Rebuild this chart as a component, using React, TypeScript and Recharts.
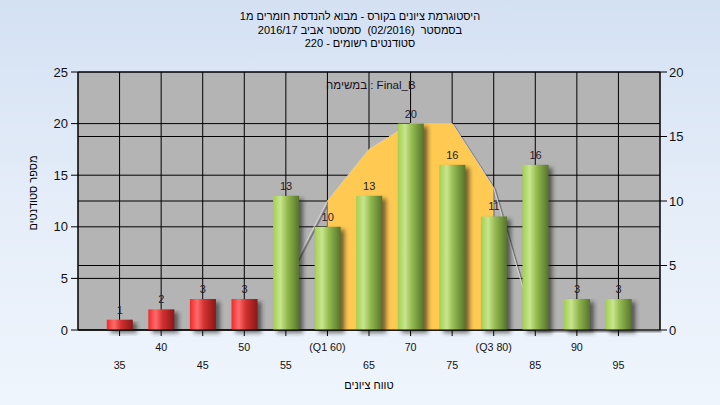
import { Area, Bar, CartesianGrid, ComposedChart, LabelList, XAxis, YAxis } from "recharts";

const grades = [35, 40, 45, 50, 55, 60, 65, 70, 75, 80, 85, 90, 95];
const studentCounts = [1, 2, 3, 3, 13, 10, 13, 20, 16, 11, 16, 3, 3];
const gradeTickLabels = ["35", "40", "45", "50", "55", "(Q1 60)", "65", "70", "75", "(Q3 80)", "85", "90", "95"];
const passGrade = 55;

// normal-ish curve on the right axis, and the band between Q1 and Q3
const curveGrades = [55, 60, 65, 70, 75, 80, 85, 90, 95, 100];
const curveLevels = [3.8, 10, 14, 16, 16, 11, 0, 0, 0, 0];
const quartileGrades = [60, 65, 70, 75, 80];
const quartileLevels = [10, 14, 16, 16, 11];

const leftTicks = [0, 5, 10, 15, 20, 25];
const rightTicks = [0, 5, 10, 15, 20];

const titleLines = [
  "היסטוגרמת ציונים בקורס - מבוא להנדסת חומרים מ1",
  "בסמסטר  (02/2016)  סמסטר אביב 2016/17",
  "סטודנטים רשומים - 220",
];
const assignmentLabel = "במשימה : Final_B";
const xTitle = "טווח ציונים";
const yTitle = "מספר סטודנטים";

const FONT = "'Liberation Sans', Arial, 'DejaVu Sans', sans-serif";

const barData = grades.map((grade, i) => ({ grade, count: studentCounts[i] }));
const curveData = curveGrades.map((grade, i) => ({ grade, level: curveLevels[i] }));
const bandData = quartileGrades.map((grade, i) => ({ grade, level: quartileLevels[i] }));

const CylinderBar = (props: any) => {
  const { x, y, width, height, payload } = props;
  if (!height || height <= 0) return null;
  const fill = payload.grade < passGrade ? "url(#barRed)" : "url(#barGreen)";
  return (
    <g>
      <rect x={x + 4} y={y + 3} width={width} height={height} fill="#1e1e1e" opacity={0.6} filter="url(#barShadow)" />
      <rect x={x} y={y} width={width} height={height} fill={fill} />
    </g>
  );
};

const GradeTick = (props: any) => {
  const { x, y, payload, index } = props;
  const label = gradeTickLabels[grades.indexOf(payload.value)] ?? String(payload.value);
  const upper = index % 2 === 1;
  return (
    <text x={x} y={upper ? y + 13 : y + 31} textAnchor="middle" fontSize={10.7} fill="#111" fontFamily={FONT}>
      {label}
    </text>
  );
};

export default function App() {
  return (
    <div
      style={{
        position: "absolute",
        left: 0,
        top: 0,
        width: 720,
        height: 405,
        background: "linear-gradient(to bottom, #d4e1f3 0%, #e6eef9 55%, #eff5fc 100%)",
      }}
    >
      <style>{`.curve-line .recharts-area-curve { filter: url(#lineShadow); }`}</style>
      <svg width={0} height={0} style={{ position: "absolute" }} aria-hidden>
        <defs>
          <linearGradient id="barGreen" x1="0" y1="0" x2="1" y2="0">
            <stop offset="0%" stopColor="#a3cf4e" />
            <stop offset="28%" stopColor="#c8e58e" />
            <stop offset="55%" stopColor="#93b94e" />
            <stop offset="100%" stopColor="#56742b" />
          </linearGradient>
          <linearGradient id="barRed" x1="0" y1="0" x2="1" y2="0">
            <stop offset="0%" stopColor="#ee2a2a" />
            <stop offset="28%" stopColor="#ff6a6a" />
            <stop offset="55%" stopColor="#d23030" />
            <stop offset="100%" stopColor="#8a1717" />
          </linearGradient>
          <filter id="barShadow" x="-30%" y="-10%" width="160%" height="130%">
            <feGaussianBlur stdDeviation="2" />
          </filter>
          <filter id="lineShadow" filterUnits="userSpaceOnUse" x="0" y="0" width="720" height="405">
            <feDropShadow dx="1.5" dy="1.5" stdDeviation="0.5" floodColor="#2e2e2e" floodOpacity="0.9" />
          </filter>
        </defs>
      </svg>

      <ComposedChart width={720} height={405} data={barData} margin={{ top: 72, right: 0, bottom: 0, left: 0 }}>
        <CartesianGrid yAxisId="left" fill="#b4b4b4" fillOpacity={1} stroke="#000" strokeOpacity={1} />
        <CartesianGrid yAxisId="right" vertical={false} stroke="#000" fill="none" />
        <XAxis
          dataKey="grade"
          type="number"
          domain={[30, 100]}
          ticks={grades}
          interval={0}
          height={75}
          tickSize={6}
          tick={<GradeTick />}
          axisLine={{ stroke: "#000" }}
          tickLine={{ stroke: "#000" }}
        />
        <YAxis
          yAxisId="left"
          domain={[0, 25]}
          ticks={leftTicks}
          width={78}
          tickSize={7}
          tickMargin={3}
          axisLine={{ stroke: "#000" }}
          tickLine={{ stroke: "#000" }}
          tick={{ fontSize: 13, fill: "#111", fontFamily: FONT }}
        />
        <YAxis
          yAxisId="right"
          orientation="right"
          domain={[0, 20]}
          ticks={rightTicks}
          width={60}
          tickSize={7}
          tickMargin={2}
          axisLine={{ stroke: "#000" }}
          tickLine={{ stroke: "#000" }}
          tick={{ fontSize: 13, fill: "#111", fontFamily: FONT }}
        />
        {/* curve first so the Q1-Q3 band and the bars sit on top of it */}
        <Area
          className="curve-line"
          yAxisId="right"
          data={curveData}
          dataKey="level"
          type="linear"
          fill="none"
          stroke="#d6d6d6"
          strokeWidth={1}
          isAnimationActive={false}
        />
        <Area
          yAxisId="right"
          data={bandData}
          dataKey="level"
          type="linear"
          fill="#ffc952"
          fillOpacity={1}
          stroke="none"
          isAnimationActive={false}
        />
        <Bar yAxisId="left" dataKey="count" barSize={26} shape={<CylinderBar />} isAnimationActive={false}>
          <LabelList dataKey="count" position="top" offset={6} fontSize={11} fill="#1c1c2c" fontFamily={FONT} />
        </Bar>
      </ComposedChart>

      <svg width={720} height={405} style={{ position: "absolute", left: 0, top: 0, pointerEvents: "none" }}>
        {titleLines.map((line, i) => (
          <text
            key={i}
            x={360}
            y={20 + i * 13.5}
            textAnchor="middle"
            fontSize={11}
            fill="#000"
            fontFamily={FONT}
            style={{ whiteSpace: "pre" }}
          >
            {line}
          </text>
        ))}
        <text x={326} y={89} fontSize={11.5} fill="#1a1020" fontFamily={FONT}>
          {assignmentLabel}
        </text>
        <text x={369} y={389} textAnchor="middle" fontSize={11} fill="#000" fontFamily={FONT}>
          {xTitle}
        </text>
        <text
          x={34}
          y={193}
          transform="rotate(-90 34 193)"
          textAnchor="middle"
          fontSize={11}
          fill="#000"
          fontFamily={FONT}
          dominantBaseline="middle"
        >
          {yTitle}
        </text>
      </svg>
    </div>
  );
}
